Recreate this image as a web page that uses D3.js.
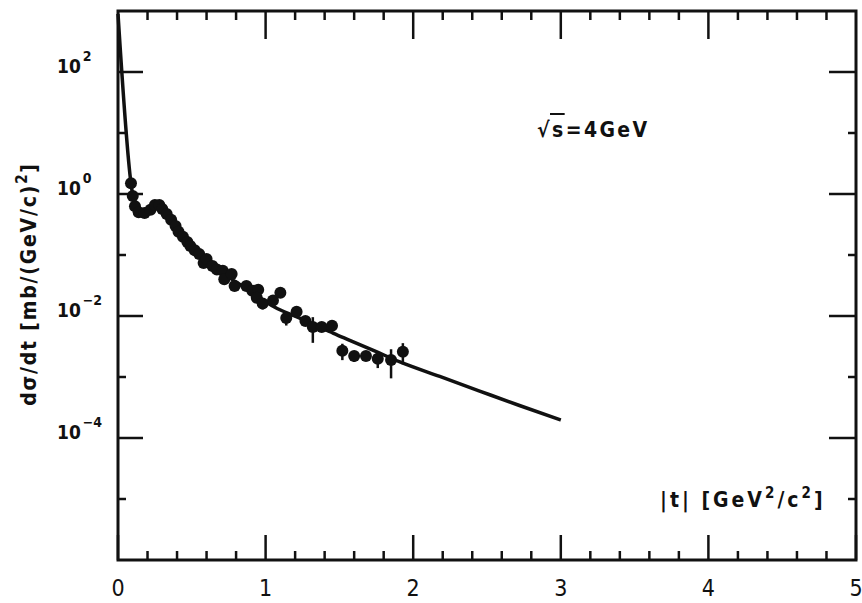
<!DOCTYPE html>
<html>
<head>
<meta charset="utf-8">
<script src="https://cdn.jsdelivr.net/npm/d3@7"></script>
<style>
    body { margin: 0; background: #fff; }
    svg text { font-family: "DejaVu Sans Condensed", "DejaVu Sans", sans-serif; fill: #111; }
</style>
</head>
<body>
<svg id="chart" width="862" height="603"></svg>
<script>
// measured points: |t| in GeV^2, dsigma/dt in mb/GeV^2, relative error (0 = bar hidden by marker)
const tData = [0.088, 0.10, 0.115, 0.14, 0.18, 0.22, 0.25, 0.28, 0.30, 0.33, 0.36, 0.39, 0.41, 0.44, 0.47, 0.49, 0.52, 0.55, 0.58, 0.60, 0.64, 0.67, 0.71, 0.72, 0.77, 0.79, 0.87, 0.91, 0.95, 0.94, 0.98, 1.05, 1.10, 1.14, 1.21, 1.27, 1.32, 1.38, 1.45, 1.52, 1.60, 1.68, 1.76, 1.85, 1.93];
const sigData = [1.5, 0.93, 0.63, 0.50, 0.49, 0.55, 0.66, 0.66, 0.57, 0.47, 0.38, 0.30, 0.24, 0.20, 0.163, 0.141, 0.12, 0.104, 0.074, 0.086, 0.066, 0.058, 0.055, 0.040, 0.049, 0.031, 0.031, 0.026, 0.027, 0.020, 0.016, 0.018, 0.024, 0.0093, 0.0117, 0.0083, 0.0066, 0.0066, 0.0069, 0.0027, 0.0022, 0.0022, 0.0020, 0.0019, 0.0026];
const errData = [0, 0, 0, 0, 0, 0, 0, 0, 0, 0, 0, 0, 0, 0, 0, 0, 0, 0, 0, 0, 0, 0, 0, 0, 0, 0, 0, 0.15, 0, 0, 0.2, 0, 0, 0.25, 0, 0, 0.45, 0, 0, 0.3, 0.2, 0, 0.3, 0.5, 0.38];

// theory curve
const tCurve = [0, 0.088, 0.10, 0.12, 0.15, 0.19, 0.23, 0.26, 0.30, 0.35, 0.40, 0.45, 0.50, 0.55, 0.60, 0.70, 0.80, 0.90, 1.00, 1.06, 1.20, 1.30, 1.46, 1.57, 1.75, 1.91, 2.18, 2.45, 2.72, 3.00];
const sigCurve = [900, 1.5, 0.95, 0.62, 0.50, 0.50, 0.60, 0.65, 0.57, 0.40, 0.28, 0.19, 0.135, 0.100, 0.078, 0.052, 0.036, 0.025, 0.0172, 0.0140, 0.0099, 0.0078, 0.0052, 0.0040, 0.0026, 0.00177, 0.00102, 0.000589, 0.000341, 0.000197];

const xMajor = [0, 1, 2, 3, 4, 5];
const xMinor = [0.2, 0.4, 0.6, 0.8, 1.2, 1.4, 1.6, 1.8, 2.2, 2.4, 2.6, 2.8, 3.2, 3.4, 3.6, 3.8, 4.2, 4.4, 4.6, 4.8];
const yMajorExp = [2, 0, -2, -4];
const yMinorExp = [1, -1, -3, -5];

const svg = d3.select('#chart');
const mLeft = 118, mRight = 856, mTop = 11, mBottom = 560;

const x = d3.scaleLinear().domain([0, 5]).range([mLeft, mRight]);
const y = d3.scaleLog().domain([1e-6, 1e3]).range([mBottom, mTop]);

// inward ticks on each side of the frame
function xTicks(vals, y0, len) {
    svg.append('g').selectAll('line').data(vals).enter().append('line')
        .attr('x1', d => x(d)).attr('x2', d => x(d))
        .attr('y1', y0).attr('y2', y0 + len)
        .attr('stroke', '#111').attr('stroke-width', 2.5);
}
function yTicks(exps, x0, len) {
    svg.append('g').selectAll('line').data(exps).enter().append('line')
        .attr('y1', d => y(Math.pow(10, d))).attr('y2', d => y(Math.pow(10, d)))
        .attr('x1', x0).attr('x2', x0 + len)
        .attr('stroke', '#111').attr('stroke-width', 2.5);
}
xTicks(xMinor, mBottom, -9);
xTicks(xMajor, mBottom, -25);
xTicks(xMinor, mTop, 9);
xTicks(xMajor.slice(1, 5), mTop, 28);
yTicks(yMinorExp, mLeft, 8);
yTicks(yMajorExp, mLeft, 25);
yTicks(yMinorExp, mRight, -8);
yTicks(yMajorExp, mRight, -27);

// frame
svg.append('rect')
    .attr('x', mLeft).attr('y', mTop)
    .attr('width', mRight - mLeft).attr('height', mBottom - mTop)
    .attr('fill', 'none').attr('stroke', '#111').attr('stroke-width', 3);

// tick labels
svg.append('g').selectAll('text').data(xMajor).enter().append('text')
    .attr('x', d => x(d)).attr('y', 596)
    .attr('text-anchor', 'middle')
    .attr('font-size', 23)
    .text(d => d);

svg.append('g').selectAll('text').data(yMajorExp).enter().append('text')
    .attr('x', 57).attr('y', d => y(Math.pow(10, d)) + 1)
    .attr('font-size', 19).attr('font-weight', 'bold')
    .each(function (e) {
        const t = d3.select(this);
        t.append('tspan').text('10');
        t.append('tspan').attr('dx', 2).attr('dy', -12).attr('font-size', 14).text(e < 0 ? '\u2212' + (-e) : e);
    });

// theory curve
const curve = tCurve.map((t, i) => [t, sigCurve[i]]);
svg.append('path')
    .datum(curve)
    .attr('fill', 'none')
    .attr('stroke', '#111')
    .attr('stroke-width', 3.5)
    .attr('d', d3.line().x(d => x(d[0])).y(d => Math.max(mTop, y(d[1]))).curve(d3.curveMonotoneX));

// data
const pts = tData.map((t, i) => ({ t, s: sigData[i], e: errData[i] }));
svg.append('g').selectAll('line').data(pts.filter(d => d.e > 0)).enter().append('line')
    .attr('x1', d => x(d.t)).attr('x2', d => x(d.t))
    .attr('y1', d => y(d.s * (1 + d.e)))
    .attr('y2', d => y(d.s * (1 - d.e)))
    .attr('stroke', '#111').attr('stroke-width', 2.5);
svg.append('g').selectAll('circle').data(pts).enter().append('circle')
    .attr('cx', d => x(d.t)).attr('cy', d => y(d.s))
    .attr('r', 6).attr('fill', '#111');

// axis titles
const yl = svg.append('text')
    .attr('transform', 'translate(36,284) rotate(-90)')
    .attr('text-anchor', 'middle')
    .attr('font-size', 21).attr('font-weight', 'bold')
    .attr('letter-spacing', 1.8);
yl.append('tspan').text('d\u03c3/dt  [mb/(GeV/c)');
yl.append('tspan').attr('dy', -9).attr('font-size', 15).text('2');
yl.append('tspan').attr('dy', 9).text(']');

const xl = svg.append('text')
    .attr('x', 660).attr('y', 507)
    .attr('font-size', 21).attr('font-weight', 'bold')
    .attr('letter-spacing', 3);
xl.append('tspan').text('|t|  [GeV');
xl.append('tspan').attr('dy', -9).attr('font-size', 15).text('2');
xl.append('tspan').attr('dy', 9).text('/c');
xl.append('tspan').attr('dy', -9).attr('font-size', 15).text('2');
xl.append('tspan').attr('dy', 9).text(']');

const ann = svg.append('text')
    .attr('x', 537).attr('y', 137)
    .attr('font-size', 21).attr('font-weight', 'bold')
    .attr('letter-spacing', 2.4)
    .text('\u221as=4GeV');
const sx0 = 537 + ann.node().getSubStringLength(0, 1);
const sx1 = sx0 + ann.node().getSubStringLength(1, 1);
svg.append('line')
    .attr('x1', sx0 - 2).attr('x2', sx1 - 1)
    .attr('y1', 114).attr('y2', 114)
    .attr('stroke', '#111').attr('stroke-width', 2);
</script>
</body>
</html>
